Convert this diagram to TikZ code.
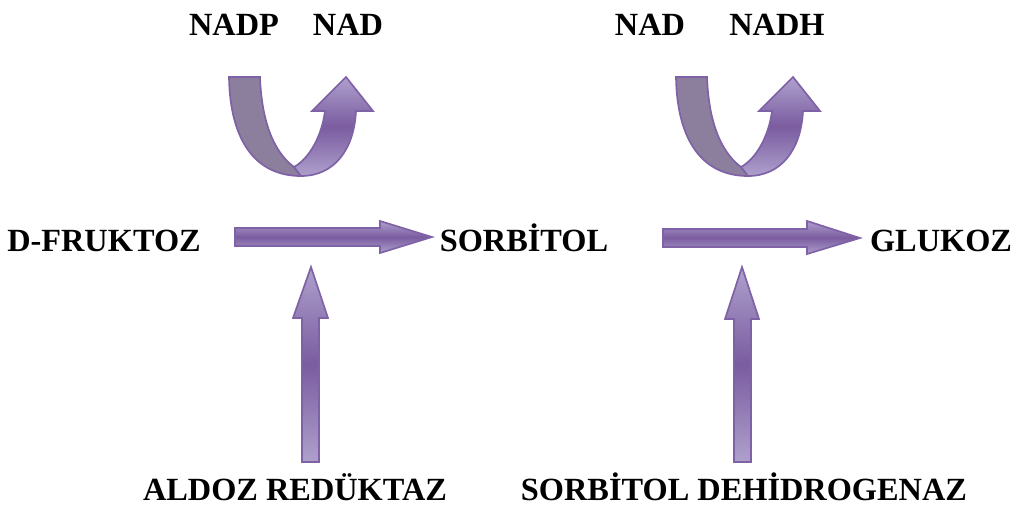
\documentclass[tikz,border=0pt]{standalone}
\usepackage{fontspec}
\setmainfont{Liberation Serif}
\definecolor{arrowedge}{HTML}{7F62A6}
\definecolor{arrowdark}{HTML}{7A5CA0}
\definecolor{arrowlight}{HTML}{AEA0CC}
\definecolor{ribbongrey}{HTML}{8C7F9E}

\begin{document}
\begin{tikzpicture}[x=0.025cm,y=-0.025cm,
  lbl/.style={anchor=base,inner sep=0pt,font=\fontsize{23}{27}\selectfont\bfseries},
  blockarrow/.style={draw=arrowedge,line width=1.2pt,line join=miter,
    top color=arrowlight,bottom color=arrowlight,middle color=arrowdark},
  ribbon/.style={draw=arrowedge,line width=1.2pt,fill=ribbongrey}]
  \useasboundingbox (0,0) rectangle (1018,508);
  % compounds
  \node[lbl] (fruktoz) at (104,251) {D-FRUKTOZ};
  \node[lbl] (sorbitol) at (524,251) {SORBİTOL};
  \node[lbl] (glukoz) at (941,251) {GLUKOZ};
  % cofactors
  \node[lbl] (nadp) at (234,35) {NADP};
  \node[lbl] (nad) at (348,35) {NAD};
  \node[lbl] (nadb) at (650,35) {NAD};
  \node[lbl] (nadh) at (777,35) {NADH};
  % enzymes
  \node[lbl] (aldoz) at (295,500) {ALDOZ REDÜKTAZ};
  \node[lbl] (sdh) at (744,500) {SORBİTOL DEHİDROGENAZ};
  % reaction arrows
  \draw[blockarrow] (235,228) -- (380,228) -- (380,221) -- (432,237) -- (380,253)
    -- (380,246) -- (235,246) -- cycle;
  \draw[blockarrow] (663,229) -- (807,229) -- (807,221) -- (860,238) -- (807,254)
    -- (807,247) -- (663,247) -- cycle;
  \draw[blockarrow] (302,462) -- (302,318) -- (293,318) -- (311,267) -- (328,318)
    -- (319,318) -- (319,462) -- cycle;
  \draw[blockarrow] (734,462) -- (734,319) -- (725,319) -- (742,267) -- (759,319)
    -- (751,319) -- (751,462) -- cycle;
  % cofactor turns
  \foreach \dx in {0,447} {
    \begin{scope}[shift={(\dx,0)}]
      \draw[ribbon] (229,77) -- (260,77) .. controls (262,130) and (278,155) .. (294,167)
        -- (301,176) .. controls (255,176) and (230,140) .. (229,77) -- cycle;
      \draw[blockarrow] (294,167) .. controls (310,158) and (322,135) .. (325,111)
        -- (312,111) -- (346,77) -- (373,111) -- (356,111)
        .. controls (354,150) and (334,176) .. (301,176) -- cycle;
    \end{scope}
  }
\end{tikzpicture}
\end{document}
